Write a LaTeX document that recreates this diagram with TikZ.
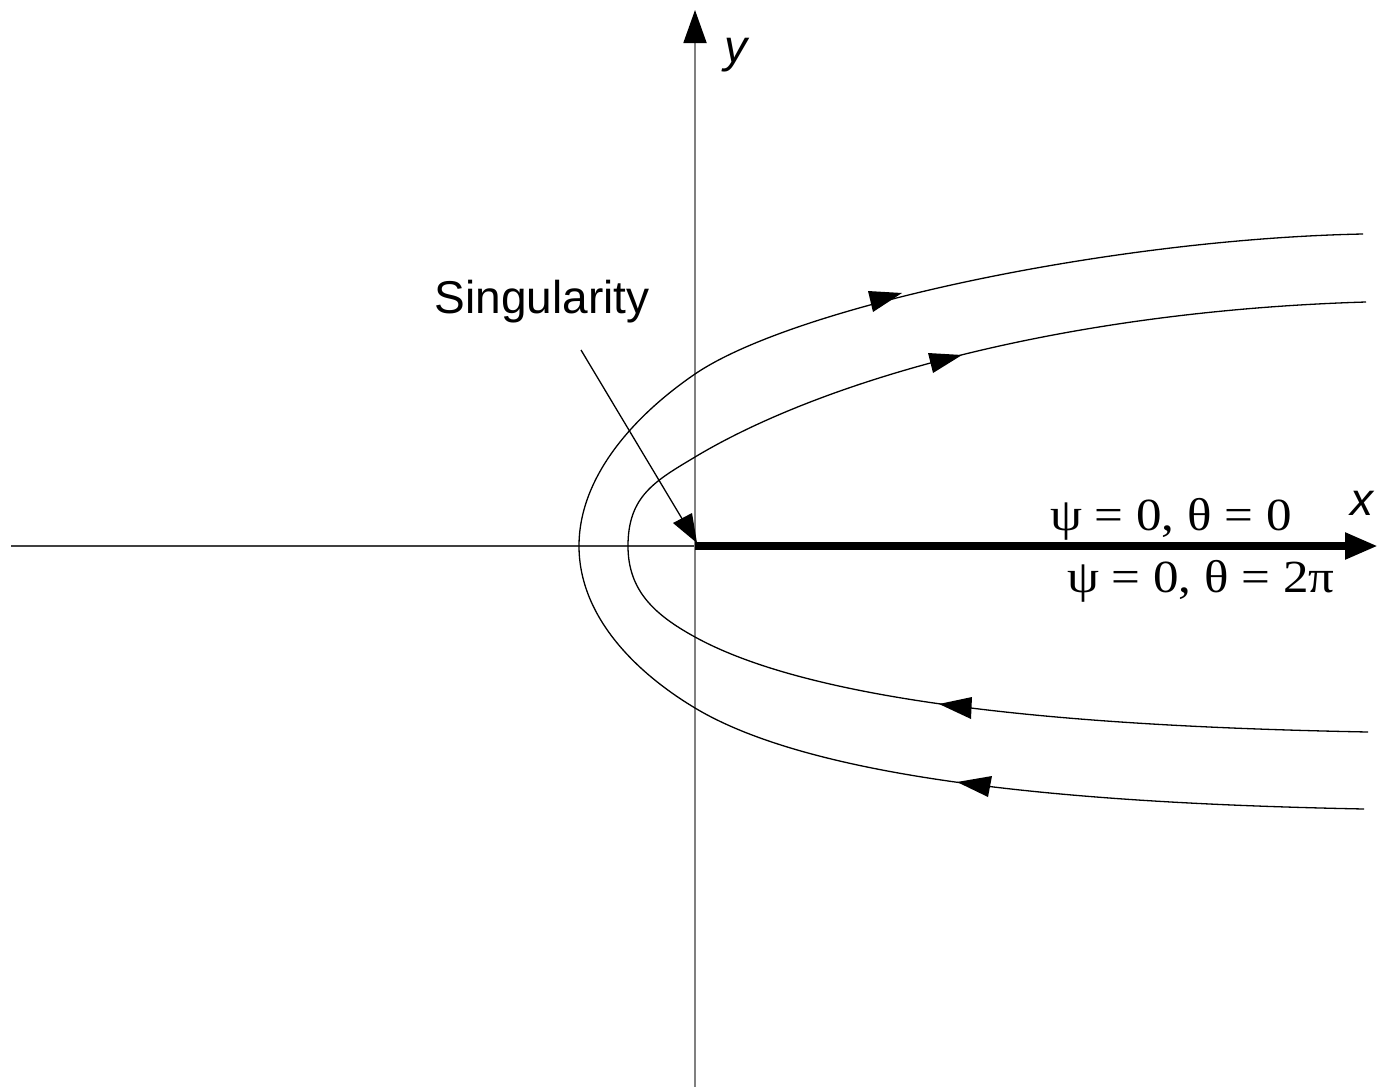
\documentclass[tikz,border=0pt]{standalone}
\usepackage{fontspec}
\setmainfont{Liberation Serif}
\setsansfont{Liberation Sans}
\newfontfamily\greekfont[FakeStretch=1.11]{Liberation Serif}
\usetikzlibrary{arrows.meta}
\tikzset{
  curve/.style={black, line width=1.3pt},
  axis/.style={gray, line width=1.8pt},
  head/.style={fill=black, draw=none},
  sanslabel/.style={font=\sffamily\fontsize{46}{52}\selectfont, inner sep=0pt},
  greeklabel/.style={font=\greekfont\fontsize{46}{52}\selectfont, inner sep=0pt}
}
\begin{document}
\begin{tikzpicture}[x=1pt,y=-1pt]
\useasboundingbox (0,0) rectangle (1382,1087);
% axes
\coordinate (xl) at (11,546);
\coordinate (o) at (695,546);
\coordinate (xr) at (1378,546);
\coordinate (yb) at (695,1087);
\coordinate (yt) at (695,10);
\draw[black!75, line width=1.3pt] (xl) -- (o);
\draw[axis, -{Triangle[length=33pt,width=23pt,color=black]}] (yb) -- (yt);
\draw[black, line width=8pt, -{Triangle[length=33pt,width=25pt]}] (o) -- (xr);
% outer streamline
\draw[curve] (1363,234) .. controls (1113,239) and (795,306) .. (695,374)
  .. controls (635,415) and (579,476) .. (579,546)
  .. controls (579,616) and (635,672) .. (695,708)
  .. controls (825,786) and (1114,804) .. (1364,809);
% inner streamline
\draw[curve] (1366,302) .. controls (1066,311) and (825,379) .. (695,457)
  .. controls (655,481) and (628,496) .. (628,546)
  .. controls (628,591) and (655,615) .. (695,637)
  .. controls (825,708.5) and (1108,727) .. (1368,732);
% arrowheads on streamlines
\fill[head] (868,291) -- (902,293) -- (873,312) -- cycle;
\fill[head] (928,353) -- (962,355) -- (933,373) -- cycle;
\fill[head] (972,697) -- (939,704) -- (971,719) -- cycle;
\fill[head] (992,776) -- (957,782) -- (988,797) -- cycle;
% singularity pointer
\node[sanslabel, anchor=base] (sing) at (542,313) {Singularity};
\coordinate (ps) at (581,350);
\draw[curve] (ps) -- (684,522);
\fill[head] (673,523) -- (697,543) -- (692,513) -- cycle;
% labels
\node[sanslabel, anchor=base west] (ylab) at (724,62) {\itshape y};
\node[sanslabel, anchor=base west] (xlab) at (1350,515) {\itshape x};
\node[greeklabel, anchor=base west] (top) at (1050,530) {ψ = 0, θ = 0};
\node[greeklabel, anchor=base west] (bot) at (1067,592) {ψ = 0, θ = 2π};
\end{tikzpicture}
\end{document}
